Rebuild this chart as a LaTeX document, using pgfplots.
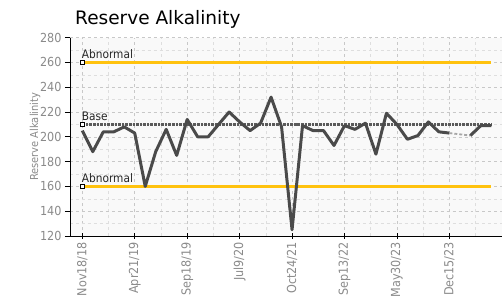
\documentclass[border=0pt]{standalone}
\usepackage{pgfplots}
\pgfplotsset{compat=1.18}
\usepackage{fontspec}
\setmainfont{DejaVu Sans}
\newfontfamily\condfont{DejaVu Sans Condensed}
\definecolor{lineg}{HTML}{4A4A4A}
\definecolor{baseg}{HTML}{5A5A5A}
\definecolor{abn}{HTML}{FFC20E}
\definecolor{tickg}{HTML}{8A8A8A}
\definecolor{gridg}{HTML}{C8C8C8}
\begin{document}
\begin{tikzpicture}
\begin{axis}[
  at={(0,0)}, anchor=south west,
  scale only axis, width=432bp, height=198.4bp,
  xmin=-1.173, xmax=40.02, ymin=120, ymax=280,
  axis x line=bottom, axis y line=left,
  axis line style={-, black, line width=0.8pt},
  xtick={0,5,...,35},
  xticklabels={Nov18/18,Apr21/19,Sep18/19,Jul9/20,Oct24/21,Sep13/22,May30/23,Dec15/23},
  minor xtick={2.5,7.5,...,37.5},
  ytick={120,140,...,280},
  minor ytick={130,150,...,270},
  grid=both,
  major grid style={dashed, gridg, line width=0.6pt},
  minor grid style={dashed, gridg!60, line width=0.5pt},
  minor tick length=0pt,
  major tick length=5bp,
  tick style={black, line width=0.8pt},
  xtick align=center,
  ytick align=outside,
  /pgf/number format/assume math mode=true,
  tick label style={font=\condfont\fontsize{12.5}{13}\selectfont, text=tickg},
  xticklabel style={rotate=90, anchor=east},
  axis background/.style={fill=gray!5},
  clip=false,
]
% reference lines
\addplot[abn, line width=2.3pt] coordinates {(0,260) (39,260)};
\addplot[abn, line width=2.3pt] coordinates {(0,160) (39,160)};
\addplot[baseg, line width=2.4pt, dash pattern=on 2.6pt off 1pt] coordinates {(0,210) (39,210)};
% data
\addplot[lineg, line width=3pt, line join=round] table {
x y
0 205
1 188
2 204
3 204
4 208
5 203
6 160
7 188
8 206
9 185
10 214
11 200
12 200
13 210
14 220
15 212
16 205
17 211
18 232
19 208
20 125
21 209
22 205
23 205
24 193
25 209
26 206
27 211
28 186
29 219
30 210
31 198
32 201
33 212
34 204
35 203
};
\addplot[gray!70, line width=1.8pt, dash pattern=on 3pt off 2pt] coordinates {(35,203) (37,201)};
\addplot[lineg, line width=3pt, line join=round] table {
x y
37 201
38 209
39 209
};
% markers
\addplot[only marks, mark=square*, mark size=2.3pt, mark options={fill=white, draw=black, line width=0.7pt}] coordinates {(0,260) (0,210) (0,160)};
\node[anchor=base west, inner sep=0, font=\condfont\fontsize{11.8}{12}\selectfont, text=black!85] at (axis cs:-0.05,263.5) {Abnormal};
\node[anchor=base west, inner sep=0, font=\condfont\fontsize{11.8}{12}\selectfont, text=black!85] at (axis cs:-0.05,213.5) {Base};
\node[anchor=base west, inner sep=0, font=\condfont\fontsize{11.8}{12}\selectfont, text=black!85] at (axis cs:-0.05,163.5) {Abnormal};
\end{axis}
\node[rotate=90, font=\condfont\fontsize{11}{12}\selectfont, text=tickg] at (-35bp,99.2bp) {Reserve Alkalinity};
\node[anchor=base west, inner sep=0, font=\fontsize{18.6}{20}\selectfont] at (5bp,211bp) {Reserve Alkalinity};
\pgfresetboundingbox
\path (-70bp,-60bp) rectangle (434bp,236bp);
\end{tikzpicture}
\end{document}
